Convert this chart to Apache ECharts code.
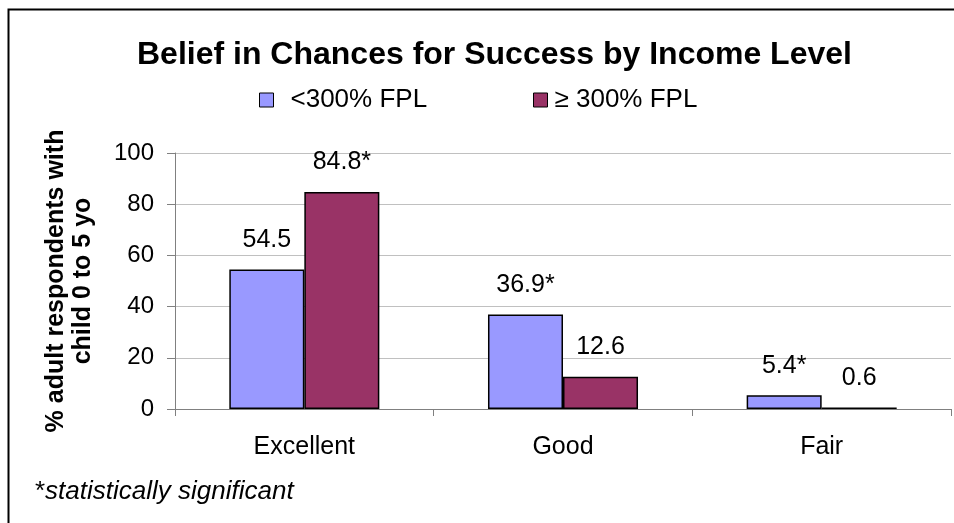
<!DOCTYPE html>
<html>
<head>
<meta charset="utf-8">
<script src="https://cdn.jsdelivr.net/npm/echarts@6/dist/echarts.min.js"></script>
<style>
  html, body { margin: 0; padding: 0; background: #fff; }
  #main { width: 954px; height: 523px; }
</style>
</head>
<body>
<div id="main"></div>
<script>
// data
var categories = ['Excellent', 'Good', 'Fair']
var lowIncome = [54.5, 36.9, 5.4]
var lowIncomeSig = [false, true, true]
var highIncome = [84.8, 12.6, 0.6]
var highIncomeSig = [true, false, false]
var seriesNames = ['<300% FPL', '\u2265 300% FPL']

var font = 'Liberation Sans, Arial, sans-serif'

function labelFor(sigList) {
  return function (p) {
    return p.value + (sigList[p.dataIndex] ? '*' : '')
  }
}

var chartDom = document.getElementById('main')
var myChart = echarts.init(chartDom)
var option

option = {
  animation: false,
  textStyle: { fontFamily: font },
  title: [
    {
      text: 'Belief in Chances for Success by Income Level',
      left: 132,
      top: 34,
      textStyle: { fontSize: 32, fontWeight: 'bold', color: '#000', fontFamily: font }
    },
    {
      text: '{a|*}{b|statistically significant}',
      left: 30,
      top: 474,
      textStyle: {
        rich: {
          a: { fontSize: 26, color: '#000', fontWeight: 'normal', fontFamily: font },
          b: { fontSize: 26, color: '#000', fontWeight: 'normal', fontStyle: 'italic', fontFamily: font }
        }
      }
    }
  ],
  graphic: [
    {
      type: 'rect',
      left: 6,
      top: 7,
      shape: { width: 960, height: 540 },
      style: { fill: 'none', stroke: '#000', lineWidth: 2 },
      silent: true
    }
  ],
  legend: [
    {
      top: 82,
      left: 254,
      icon: 'rect',
      itemWidth: 14,
      itemHeight: 14,
      itemStyle: { borderColor: '#000', borderWidth: 1 },
      textStyle: { fontSize: 26, color: '#000', fontFamily: font, padding: [0, 0, 0, 12] },
      data: [seriesNames[0]]
    },
    {
      top: 82,
      left: 528,
      icon: 'rect',
      itemWidth: 14,
      itemHeight: 14,
      itemStyle: { borderColor: '#000', borderWidth: 1 },
      textStyle: { fontSize: 26, color: '#000', fontFamily: font, padding: [0, 0, 0, 2] },
      data: [seriesNames[1]]
    }
  ],
  grid: {
    left: 175,
    right: 3,
    top: 153,
    bottom: 114
  },
  xAxis: {
    type: 'category',
    data: categories,
    axisLine: { lineStyle: { color: '#808080', width: 1 } },
    axisTick: { show: true, length: 7, lineStyle: { color: '#808080' } },
    axisLabel: { fontSize: 25, color: '#000', margin: 26, fontFamily: font }
  },
  yAxis: {
    type: 'value',
    min: 0,
    max: 100,
    interval: 20,
    name: '% adult respondents with\nchild 0 to 5 yo',
    nameLocation: 'middle',
    nameGap: 78,
    nameTextStyle: { fontSize: 25, fontWeight: 'bold', color: '#000', lineHeight: 27, fontFamily: font },
    axisLine: { show: true, lineStyle: { color: '#808080', width: 1 } },
    axisTick: { show: true, length: 8, lineStyle: { color: '#808080' } },
    axisLabel: { fontSize: 24, color: '#000', margin: 21, fontFamily: font },
    splitLine: { lineStyle: { color: '#c0c0c0', width: 1 } }
  },
  series: [
    {
      name: seriesNames[0],
      type: 'bar',
      data: lowIncome,
      barGap: '0%',
      barCategoryGap: '42%',
      itemStyle: { color: '#9999ff', borderColor: '#000', borderWidth: 1.5 },
      label: {
        show: true,
        position: 'top',
        distance: 17,
        fontSize: 25,
        color: '#000',
        fontFamily: font,
        formatter: labelFor(lowIncomeSig)
      }
    },
    {
      name: seriesNames[1],
      type: 'bar',
      data: highIncome,
      itemStyle: { color: '#993366', borderColor: '#000', borderWidth: 1.5 },
      label: {
        show: true,
        position: 'top',
        distance: 17,
        fontSize: 25,
        color: '#000',
        fontFamily: font,
        formatter: labelFor(highIncomeSig)
      }
    }
  ]
}
option && myChart.setOption(option)
</script>
</body>
</html>
